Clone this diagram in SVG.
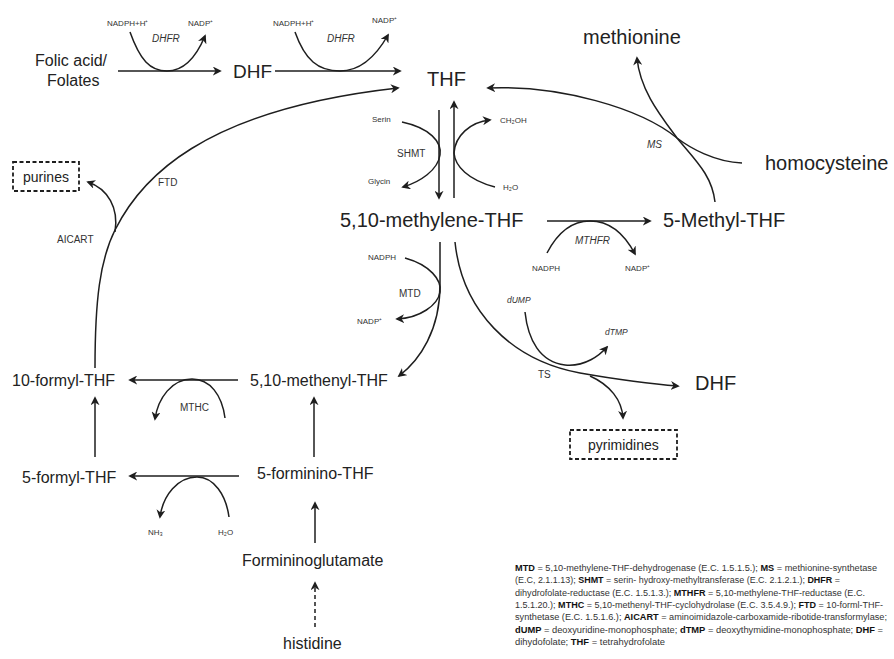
<svg xmlns="http://www.w3.org/2000/svg" width="894" height="659" viewBox="0 0 894 659">
<style>
text{font-family:"Liberation Sans",Arial,sans-serif;fill:#222}
.big{font-size:20px}
.med{font-size:16px}
.box{font-size:14px}
.enz{font-size:10px;fill:#333}
.ital{font-size:10px;font-style:italic;fill:#333}
.sm{font-size:8px;fill:#333}
.smi{font-size:8.5px;font-style:italic;fill:#333}
.leg{font-size:8.3px;fill:#333}
.leg tspan.b{font-weight:bold;fill:#111}
.c{fill:none;stroke:#1e1e1e;stroke-width:1.5;marker-end:url(#ah)}
.dash{fill:none;stroke:#1e1e1e;stroke-width:1.8;stroke-dasharray:4 2.5}
</style>
<defs>
<marker id="ah" viewBox="0 0 10 10" refX="8" refY="5" markerWidth="9" markerHeight="9" markerUnits="userSpaceOnUse" orient="auto"><path d="M0,0 L10,5 L0,10 L3,5 z" fill="#1e1e1e"/></marker>
</defs>
<g id="connectors">
<path class="c" d="M118,71 H220"/>
<path class="c" d="M130,32 C140,60 150,71 167,71 C185,71 197,55 205,36"/>
<path class="c" d="M275,71 H400"/>
<path class="c" d="M295,32 C305,60 318,71 340,71 C360,71 375,58 388,35"/>
<path class="c" d="M95,368 C95,300 100,260 115,230 C140,180 200,110 398,88"/>
<path class="c" d="M115,232 C119,208 108,189 88,182"/>
<path class="c" d="M439,110 V198"/>
<path class="c" d="M454,198 V102"/>
<path class="c" d="M402,122 C430,128 442,142 440,155 C438,170 420,182 403,187"/>
<path class="c" d="M495,187 C468,180 455,166 454,153 C455,136 470,122 490,120"/>
<path class="c" d="M742,163 C715,162 690,148 677,138 C640,108 560,85 488,88"/>
<path class="c" d="M715,202 C712,175 695,160 677,138 C660,115 640,90 637,58"/>
<path class="c" d="M547,221 H650"/>
<path class="c" d="M547,253 C560,228 575,221 590,221 C610,221 625,235 635,254"/>
<path class="c" d="M440,242 V285 C440,330 420,360 399,376"/>
<path class="c" d="M405,258 C430,265 442,280 440,292 C438,305 420,318 397,319"/>
<path class="c" d="M455,242 C462,310 510,360 580,373 C620,380 650,384 678,386"/>
<path class="c" d="M525,312 C528,340 540,362 565,365 C585,367 600,355 607,347"/>
<path class="c" d="M590,376 C610,385 622,400 623,418"/>
<path class="c" d="M238,380 H130"/>
<path class="c" d="M225,418 C222,395 210,379 192,379 C172,379 158,398 155,419"/>
<path class="c" d="M95,457 V398"/>
<path class="c" d="M314,457 V398"/>
<path class="c" d="M239,476 H130"/>
<path class="c" d="M229,517 C226,495 214,477 197,477 C178,477 163,495 160,517"/>
<path class="c" d="M315,543 V503"/>
<path class="c" d="M315,627 V583" stroke-dasharray="4 3"/>
</g>
<g id="folic"><text class="med" x="35" y="66">Folic acid/</text><text class="med" x="47" y="86">Folates</text></g>
<g id="dhf1"><text class="big" x="233" y="78" style="font-size:19px">DHF</text></g>
<g id="thf"><text class="big" x="427" y="86">THF</text></g>
<g id="dhfr1"><text class="sm" x="107" y="26">NADPH+H⁺</text><text class="sm" x="188" y="26">NADP⁺</text><text class="ital" x="152" y="42">DHFR</text></g>
<g id="dhfr2"><text class="sm" x="273" y="26">NADPH+H⁺</text><text class="sm" x="372" y="23">NADP⁺</text><text class="ital" x="327" y="42">DHFR</text></g>
<g id="methionine"><text class="big" x="583" y="44">methionine</text></g>
<g id="homocysteine"><text class="big" x="765" y="170">homocysteine</text></g>
<g id="ms"><text class="ital" x="647" y="148">MS</text></g>
<g id="shmt"><text class="sm" x="372" y="122">Serin</text><text class="sm" x="368" y="184">Glycin</text><text class="enz" x="397" y="157">SHMT</text><text class="sm" x="500" y="123">CH₂OH</text><text class="sm" x="503" y="190">H₂O</text></g>
<g id="methylene"><text class="big" x="340" y="227">5,10-methylene-THF</text></g>
<g id="methyl"><text class="big" x="663" y="227">5-Methyl-THF</text></g>
<g id="mthfr"><text class="ital" x="575" y="244">MTHFR</text><text class="sm" x="532" y="271">NADPH</text><text class="sm" x="625" y="271">NADP⁺</text></g>
<g id="mtd"><text class="sm" x="368" y="260">NADPH</text><text class="enz" x="399" y="297">MTD</text><text class="sm" x="357" y="324">NADP⁺</text></g>
<g id="ts"><text class="smi" x="507" y="303">dUMP</text><text class="smi" x="605" y="335">dTMP</text><text class="enz" x="538" y="378">TS</text></g>
<g id="dhf2"><text class="big" x="695" y="390">DHF</text></g>
<g id="pyrimidines"><rect class="dash" x="570" y="430" width="107" height="29"/><text class="box" x="588" y="450">pyrimidines</text></g>
<g id="purines"><rect class="dash" x="13" y="162" width="66" height="29"/><text class="box" x="23" y="182">purines</text></g>
<g id="ftd"><text class="enz" x="158" y="186">FTD</text><text class="enz" x="57" y="243">AICART</text></g>
<g id="formyl10"><text class="med" x="12" y="386">10-formyl-THF</text></g>
<g id="methenyl"><text class="med" x="250" y="386">5,10-methenyl-THF</text></g>
<g id="mthc"><text class="enz" x="180" y="411">MTHC</text></g>
<g id="formyl5"><text class="med" x="22" y="483">5-formyl-THF</text></g>
<g id="forminino"><text class="med" x="257" y="479">5-forminino-THF</text></g>
<g id="nh3"><text class="sm" x="148" y="535">NH₃</text><text class="sm" x="218" y="535">H₂O</text></g>
<g id="figlu"><text class="med" x="242" y="566">Formininoglutamate</text></g>
<g id="histidine"><text class="med" x="283" y="649">histidine</text></g>
<g id="legend">
<text class="leg" x="515" y="571" textLength="362" lengthAdjust="spacingAndGlyphs"><tspan class="b">MTD</tspan> = 5,10-methylene-THF-dehydrogenase (E.C. 1.5.1.5.); <tspan class="b">MS</tspan> = methionine-synthetase</text>
<text class="leg" x="515" y="583.3" textLength="325" lengthAdjust="spacingAndGlyphs">(E.C, 2.1.1.13); <tspan class="b">SHMT</tspan> = serin- hydroxy-methyltransferase (E.C. 2.1.2.1.); <tspan class="b">DHFR</tspan> =</text>
<text class="leg" x="515" y="595.6" textLength="350" lengthAdjust="spacingAndGlyphs">dihydrofolate-reductase (E.C. 1.5.1.3.); <tspan class="b">MTHFR</tspan> = 5,10-methylene-THF-reductase (E.C.</text>
<text class="leg" x="515" y="607.9" textLength="368" lengthAdjust="spacingAndGlyphs">1.5.1.20.); <tspan class="b">MTHC</tspan> = 5,10-methenyl-THF-cyclohydrolase (E.C. 3.5.4.9.); <tspan class="b">FTD</tspan> = 10-forml-THF-</text>
<text class="leg" x="515" y="620.2" textLength="372" lengthAdjust="spacingAndGlyphs">synthetase (E.C. 1.5.1.6.); <tspan class="b">AICART</tspan> = aminoimidazole-carboxamide-ribotide-transformylase;</text>
<text class="leg" x="515" y="632.5" textLength="368" lengthAdjust="spacingAndGlyphs"><tspan class="b">dUMP</tspan> = deoxyuridine-monophosphate; <tspan class="b">dTMP</tspan> = deoxythymidine-monophosphate; <tspan class="b">DHF</tspan> =</text>
<text class="leg" x="515" y="644.8" textLength="150" lengthAdjust="spacingAndGlyphs">dihydofolate; <tspan class="b">THF</tspan> = tetrahydrofolate</text>
</g>
</svg>
